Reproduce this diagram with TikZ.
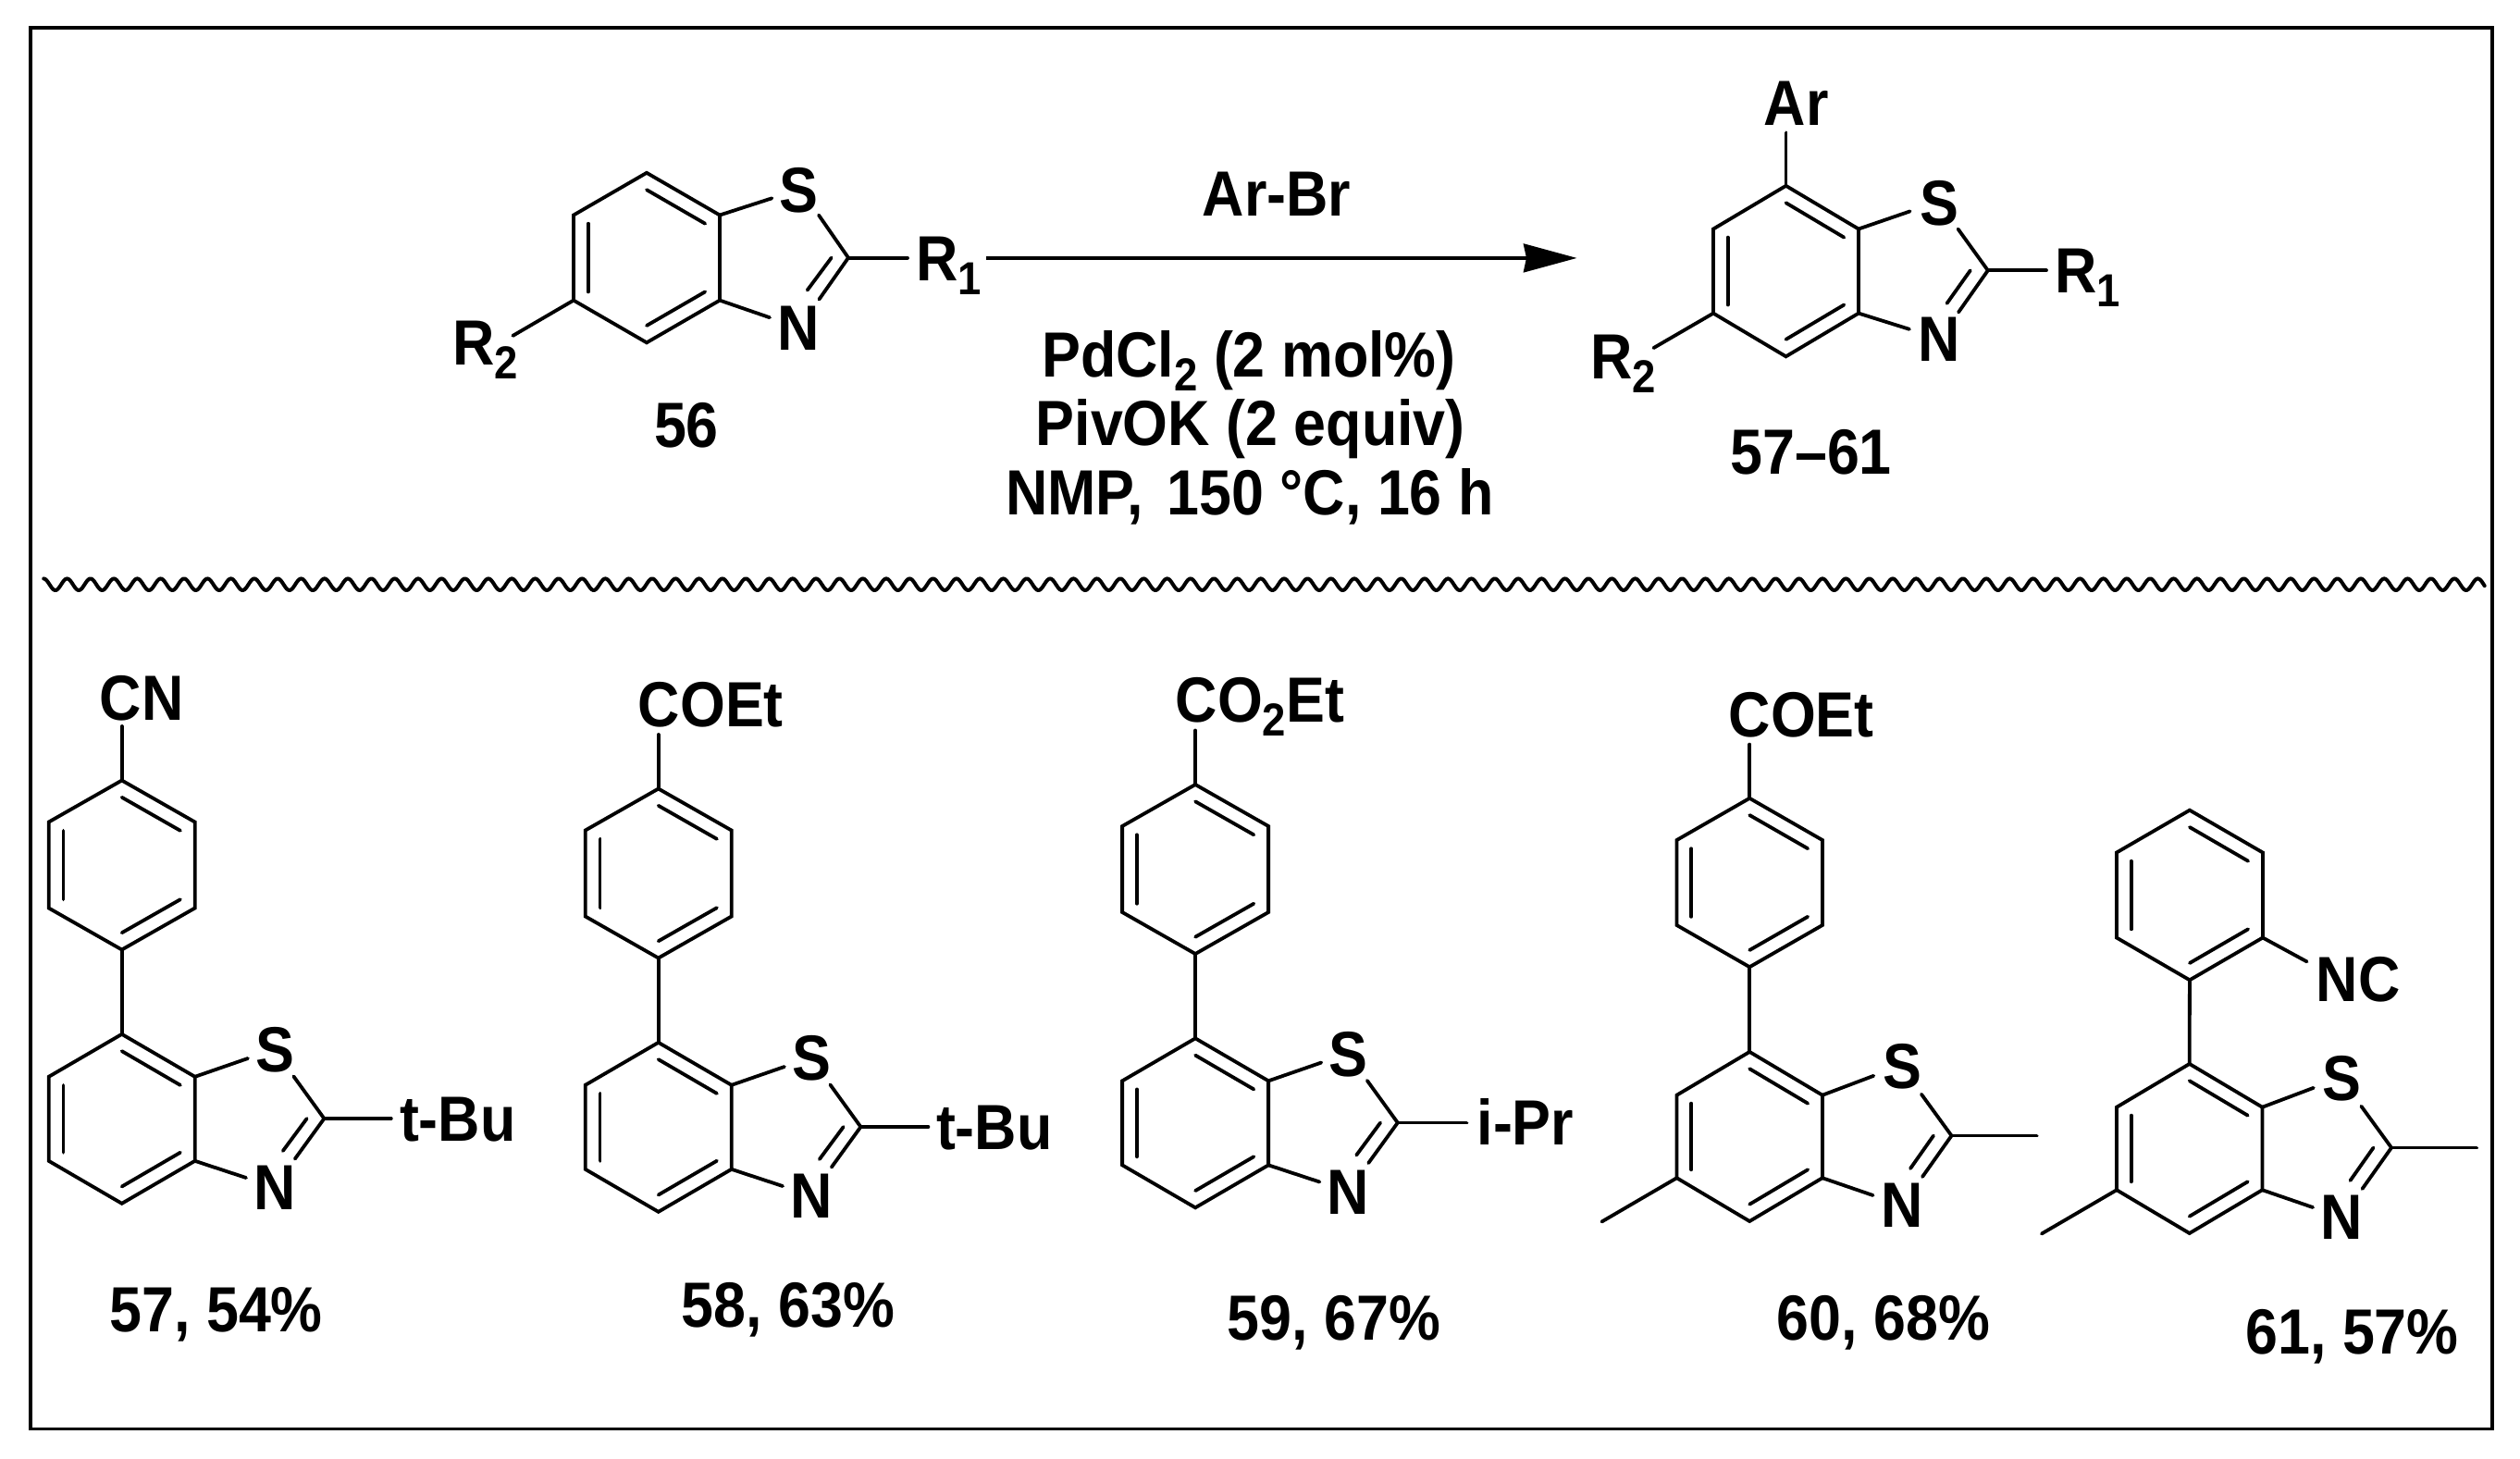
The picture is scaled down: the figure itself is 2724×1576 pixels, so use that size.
\documentclass[tikz,border=0pt]{standalone}
\usepackage{fontspec}
\setmainfont{Liberation Sans}[FakeStretch=0.91]
\usetikzlibrary{calc,arrows.meta}
\newcommand{\subs}[1]{\raisebox{-7.5pt}{\fontsize{25}{25}\selectfont #1}}
\tikzset{
  bond/.style={line width=1.9pt,line cap=round,line join=miter,black},
  txt/.style={anchor=base,inner sep=0pt,outer sep=0pt,yshift=-0.8pt,font=\fontsize{34.5}{40}\selectfont\bfseries,text=black},
  txtl/.style={txt,anchor=base west},
  frameline/.style={line width=1.9pt,black},
  wave/.style={line width=2pt,black,line cap=round,line join=round},
  rxn/.style={line width=2.1pt,black,-{Stealth[length=28.8pt,width=15.3pt,inset=1.5pt]}}
}
% hexagon: prefix, centre x, top y, half width, corner drop, side length
\newcommand{\hexring}[6]{
  \coordinate (#1t) at (#2,#3);
  \coordinate (#1ur) at (#2+#4,#3+#5);
  \coordinate (#1lr) at (#2+#4,#3+#5+#6);
  \coordinate (#1b) at (#2,#3+2*#5+#6);
  \coordinate (#1ll) at (#2-#4,#3+#5+#6);
  \coordinate (#1ul) at (#2-#4,#3+#5);
  \coordinate (#1c) at (#2,#3+#5+#6/2);
  \draw[bond] (#1t)--(#1ur)--(#1lr)--(#1b)--(#1ll)--(#1ul)--cycle;
  \draw[bond] ($(#1t)!.2!(#1c)$)--($(#1ur)!.2!(#1c)$);
  \draw[bond] ($(#1lr)!.2!(#1c)$)--($(#1b)!.2!(#1c)$);
  \draw[bond] ($(#1ll)!.2!(#1c)$)--($(#1ul)!.2!(#1c)$);
}
% thiazole: prefix, S bond end, S pos, N bond end, N pos, C2, S-C start, N=C end, inner bond
\newcommand{\thz}[9]{
  \node[txt] (#1S) at (#3) {S};
  \node[txt] (#1N) at (#5) {N};
  \coordinate (#1Se) at (#2);
  \coordinate (#1Ne) at (#4);
  \coordinate (#1C) at (#6);
  \coordinate (#1Ss) at (#7);
  \coordinate (#1Ns) at (#8);
  \draw[bond] (#1lur)--(#1Se);
  \draw[bond] (#1llr)--(#1Ne);
  \draw[bond] (#1Ss)--(#1C)--(#1Ns);
  \draw[bond] #9;
}
% 57-59 core geometry
\newcommand{\coreA}[2]{
  \hexring{#1u}{131.7}{843.5}{79}{45}{93}
  \hexring{#1l}{131.7}{1117.8}{79}{46}{91}
  \draw[bond] (#1ub)--(#1lt);
  \coordinate (#1top) at (131.7,785);
  \draw[bond] (#1ut)--(#1top);
  \thz{#1}{267.9,1144}{297,1157}{266,1273}{297,1306}{350.4,1209}{317.4,1163.4}{318.8,1252.6}{(331.7,1209)--(305.8,1244)}
  \coordinate (#1r) at (#2,1209);
  \draw[bond] (#1C)--(#1r);
}
% 60-61 thiazole geometry
\newcommand{\coreB}[1]{
  \hexring{#1l}{1891.2}{1136.9}{78.7}{46.8}{89.5}
  \thz{#1}{2025.3,1162.8}{2056,1175}{2024.6,1292}{2056,1324.5}{2109.5,1227.5}{2076.9,1182.7}{2078,1272}{(2090,1227.5)--(2065,1263)}
  \coordinate (#1me) at (2201.6,1227.5);
  \coordinate (#1mf) at (1731.4,1320.5);
  \draw[bond] (#1C)--(#1me);
  \draw[bond] (#1lll)--(#1mf);
}
\begin{document}
\begin{tikzpicture}[x=0.5pt,y=-0.5pt]
\useasboundingbox (0,0) rectangle (2724,1576);
\fill[white] (0,0) rectangle (2724,1576);
\coordinate (fa) at (33,30);
\coordinate (fb) at (2694,1544.5);
\draw[frameline] (fa) rectangle (fb);
\draw[wave] plot[samples=1800,domain=47.2:2685.7,variable=\x] (\x,{631.7-6.3*cos(14.229*mod(\x-47.2,25.3))});

% 56
\hexring{al}{699}{186.8}{79}{45.7}{92.1}
\thz{a}{834.4,214.3}{863.5,228}{832,343.2}{863.5,377}{917,278.6}{885,232.5}{885.4,323.6}{(898.7,278.6)--(872.7,313.6)}
\node[txtl] (aRa) at (990,302) {R\subs{1}};
\node[txtl] (aRb) at (489,393) {R\subs{2}};
\coordinate (aRae) at (981,278.6);
\coordinate (aRbe) at (554.3,362.9);
\draw[bond] (aC)--(aRae);
\draw[bond] (alll)--(aRbe);
\node[txt] (n56) at (742,481.4) {56};

% arrow and conditions
\coordinate (arrS) at (1065.5,278.9);
\coordinate (arrE) at (1704.6,278.9);
\draw[rxn] (arrS)--(arrE);
\node[txt] (arbr) at (1380,232.2) {Ar-Br};
\node[txt] (ca) at (1350,405.7) {PdCl\subs{2} (2 mol\%)};
\node[txt] (cb) at (1351.7,479.6) {PivOK (2 equiv)};
\node[txt] (cc) at (1351,554.6) {NMP,\hspace{4pt} 150 °C, 16 h};

% product
\hexring{pl}{1930.5}{200.8}{78.5}{46.7}{91.1}
\thz{p}{2064.6,228.4}{2096,241.8}{2063.9,355.8}{2096,389}{2148.8,292.3}{2116.5,247.5}{2117,337.5}{(2129.8,292.3)--(2104.5,327.9)}
\node[txt] (pAr) at (1941.8,133.9) {Ar};
\coordinate (pAre) at (1930.5,143.4);
\draw[bond] (plt)--(pAre);
\node[txtl] (pRa) at (2221.5,315) {R\subs{1}};
\node[txtl] (pRb) at (1719.4,407.5) {R\subs{2}};
\coordinate (pRae) at (2212,292.3);
\coordinate (pRbe) at (1787.4,376.1);
\draw[bond] (pC)--(pRae);
\draw[bond] (plll)--(pRbe);
\node[txt] (nrange) at (1957.6,510.8) {57–61};

% 57
\begin{scope}
\coreA{A}{422.8}
\end{scope}
\node[txt] (Asub) at (153.3,776.6) {CN};
\node[txtl] (Ar) at (432,1232) {t-Bu};
\node[txt] (Alab) at (233.7,1437.8) {57, 54\%};

% 58
\begin{scope}[shift={(580,9)}]
\coreA{B}{423.4}
\end{scope}
\node[txt] (Bsub) at (768.4,783.7) {COEt};
\node[txtl] (Br) at (1012,1241) {t-Bu};
\node[txt] (Blab) at (852,1432.6) {58, 63\%};

% 59
\begin{scope}[shift={(1160.4,4.5)}]
\coreA{C}{425}
\end{scope}
\node[txt] (Csub) at (1361.8,779) {CO\subs{2}Et};
\node[txtl] (Cr) at (1596.6,1235.4) {i-Pr};
\node[txt] (Clab) at (1442,1446.8) {59, 67\%};

% 60
\hexring{Du}{1891.2}{862.8}{78.7}{45.2}{92}
\coreB{D}
\draw[bond] (Dub)--(Dlt);
\coordinate (Dtop) at (1891.2,804.6);
\draw[bond] (Dut)--(Dtop);
\node[txt] (Dsub) at (1947.2,794.6) {COEt};
\node[txt] (Dlab) at (2035.7,1447) {60, 68\%};

% 61
\hexring{Eu}{2366.9}{875.7}{79}{45.8}{92}
\begin{scope}[shift={(475.5,13)}]
\coreB{E}
\end{scope}
\draw[bond] (Eub)--(Elt);
\coordinate (Enc) at (2493.6,1039.4);
\draw[bond] (Eulr)--(Enc);
\node[txt] (Esub) at (2549.3,1080.7) {NC};
\node[txt] (Elab) at (2542.5,1462) {61, 57\%};
\end{tikzpicture}
\end{document}
